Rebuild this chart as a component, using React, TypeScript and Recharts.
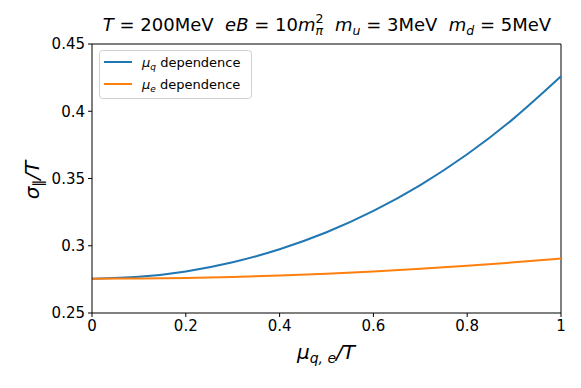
import React from 'react';
import { LineChart, Line, XAxis, YAxis, ReferenceLine, Customized } from 'recharts';

// mu / T on the x axis
const muOverT = [0, 0.1, 0.2, 0.3, 0.4, 0.5, 0.6, 0.7, 0.8, 0.9, 1.0];
// sigma_parallel / T versus mu_q
const sigmaMuQ = [0.2755, 0.2769, 0.2809, 0.2877, 0.2974, 0.31, 0.3259, 0.3451, 0.368, 0.3949, 0.426];
// sigma_parallel / T versus mu_e
const sigmaMuE = [0.2755, 0.27565, 0.2761, 0.27685, 0.2779, 0.27925, 0.2809, 0.28285, 0.2851, 0.28765, 0.2905];

const xTicks = [0, 0.2, 0.4, 0.6, 0.8, 1];
const yTicks = [0.25, 0.3, 0.35, 0.4, 0.45];

const BLUE = '#1f77b4';
const ORANGE = '#ff7f0e';
const FONT = 'DejaVu Sans';
const SP = '\u00a0';

const data = muOverT.map((x, i) => ({ x, q: sigmaMuQ[i], e: sigmaMuE[i] }));

const fmt = (v: number) => (v === 0 ? '0' : v === 1 ? '1' : String(v));

const Decorations = () => (
  <g fontFamily={FONT} fill="#000">
    {/* title */}
    <text x={327} y={31} textAnchor="middle" fontSize={18}>
      <tspan fontStyle="italic">T</tspan>
      <tspan>{`${SP}=${SP}200MeV${SP}${SP}`}</tspan>
      <tspan fontStyle="italic">eB</tspan>
      <tspan>{`${SP}=${SP}10`}</tspan>
      <tspan fontStyle="italic">m</tspan>
      <tspan fontStyle="italic" fontSize={12.5} dy={4}>π</tspan>
      <tspan fontSize={12.5} dx={-7.5} dy={-12}>2</tspan>
      <tspan dy={8}>{`${SP}${SP}`}</tspan>
      <tspan fontStyle="italic">m</tspan>
      <tspan fontStyle="italic" fontSize={12.5} dy={4}>u</tspan>
      <tspan dy={-4}>{`${SP}=${SP}3MeV${SP}${SP}`}</tspan>
      <tspan fontStyle="italic">m</tspan>
      <tspan fontStyle="italic" fontSize={12.5} dy={4}>d</tspan>
      <tspan dy={-4}>{`${SP}=${SP}5MeV`}</tspan>
    </text>

    {/* y label */}
    <text x={39} y={180} transform="rotate(-90, 39, 180)" textAnchor="middle" fontSize={20}>
      <tspan fontStyle="italic">σ</tspan>
      <tspan fontSize={14} dy={4}>∥</tspan>
      <tspan dy={-4} fontStyle="italic">/T</tspan>
    </text>

    {/* x label */}
    <text x={326} y={359} textAnchor="middle" fontSize={20}>
      <tspan fontStyle="italic">μ</tspan>
      <tspan fontStyle="italic" fontSize={14} dy={4}>{`q,${SP}e`}</tspan>
      <tspan dy={-4} fontStyle="italic">/T</tspan>
    </text>

    {/* legend */}
    <rect x={99.5} y={50.5} width={152} height={48} rx={3} fill="#fff" fillOpacity={0.8} stroke="#d0d0d0" />
    <line x1={104} x2={132} y1={62} y2={62} stroke={BLUE} strokeWidth={2} />
    <line x1={104} x2={132} y1={84} y2={84} stroke={ORANGE} strokeWidth={2} />
    <text x={142} y={67} fontSize={13}>
      <tspan fontStyle="italic">μ</tspan>
      <tspan fontStyle="italic" fontSize={9} dy={3}>q</tspan>
      <tspan dy={-3}>{`${SP}dependence`}</tspan>
    </text>
    <text x={142} y={89} fontSize={13}>
      <tspan fontStyle="italic">μ</tspan>
      <tspan fontStyle="italic" fontSize={9} dy={3}>e</tspan>
      <tspan dy={-3}>{`${SP}dependence`}</tspan>
    </text>
  </g>
);

export default function App() {
  return (
    <div style={{ position: 'absolute', left: 0, top: 0, width: 581, height: 388, background: '#fff' }}>
      <LineChart width={581} height={388} data={data} margin={{ top: 44, right: 20, bottom: 45, left: 0 }}>
        <XAxis
          dataKey="x"
          type="number"
          domain={[0, 1]}
          ticks={xTicks}
          tickFormatter={fmt}
          height={30}
          tickSize={4}
          tickMargin={3}
          stroke="#000"
          tick={{ fill: '#000', fontSize: 15, fontFamily: FONT }}
        />
        <YAxis
          type="number"
          domain={[0.25, 0.45]}
          ticks={yTicks}
          width={92}
          tickSize={4}
          tickMargin={3}
          stroke="#000"
          allowDataOverflow
          tick={{ fill: '#000', fontSize: 15, fontFamily: FONT }}
        />
        <ReferenceLine y={0.45} stroke="#000" strokeWidth={1} />
        <ReferenceLine x={1} stroke="#000" strokeWidth={1} />
        <Line dataKey="q" type="natural" stroke={BLUE} strokeWidth={2} dot={false} isAnimationActive={false} />
        <Line dataKey="e" type="natural" stroke={ORANGE} strokeWidth={2} dot={false} isAnimationActive={false} />
        <Customized component={Decorations} />
      </LineChart>
    </div>
  );
}
